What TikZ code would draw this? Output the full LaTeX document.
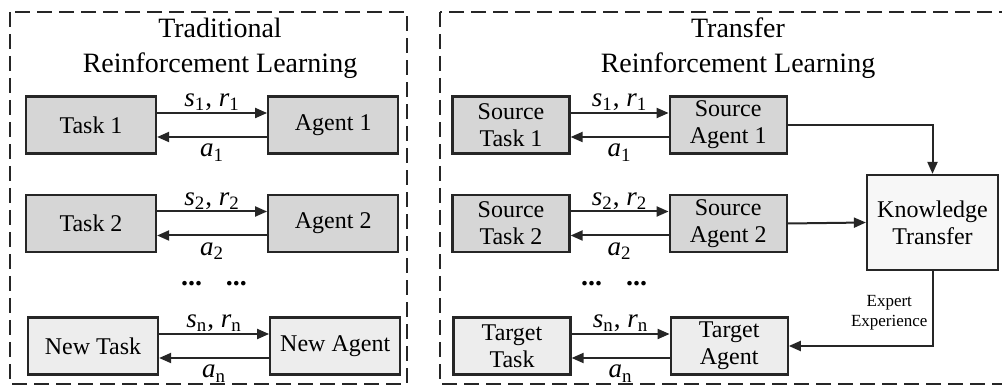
\documentclass[tikz,border=0pt]{standalone}
\usepackage{fontspec}
\setmainfont{Liberation Serif}
\usetikzlibrary{arrows.meta, positioning}

\newcommand{\symsub}[2]{\textit{#1}\textsubscript{#2}}

\begin{document}
\begin{tikzpicture}[
    x=0.5pt, y=-0.5pt,
    box/.style={draw=black!85, line width=1.1pt, minimum height=28.5pt, align=center, inner sep=1pt, font=\fontsize{12}{13.5}\selectfont},
    wbox/.style={box, minimum width=65pt},
    nbox/.style={box, minimum width=58.5pt},
    srcbox/.style={fill=black!16},
    newbox/.style={fill=black!7},
    arrow/.style={-{Triangle[length=6pt,width=5pt]}, line width=1pt, draw=black!85},
    dashframe/.style={draw=black!85, line width=1pt, dash pattern=on 7.5pt off 3.5pt},
    heading/.style={align=center, font=\fontsize{14}{17.5}\selectfont},
    lbl/.style={font=\fontsize{13.5}{14}\selectfont},
    dots/.style={font=\fontsize{14}{15}\selectfont\bfseries}
]
    \useasboundingbox (0,0) rectangle (1002,389);

    \draw[dashframe] (10,12) rectangle (407,384);
    \draw[dashframe] (440,12) rectangle (1015,384);

    \node[heading] (lhead) at (220,48) {Traditional\\Reinforcement Learning};
    \node[heading] (rhead) at (738,48) {Transfer\\Reinforcement Learning};

    % traditional RL
    \node[wbox, srcbox] (t1) at (91,125) {Task 1};
    \node[wbox, srcbox, right=55pt of t1] (a1) {Agent 1};
    \node[wbox, srcbox] (t2) at (91,223.5) {Task 2};
    \node[wbox, srcbox, right=55pt of t2] (a2) {Agent 2};
    \node[wbox, newbox] (t3) at (93,346) {New Task};
    \node[wbox, newbox, right=55pt of t3] (a3) {New Agent};
    \node[dots] (ldots) at (214,284) {...\hspace{12pt}...};

    % transfer RL
    \node[nbox, srcbox] (st1) at (511,125) {Source\\Task 1};
    \node[nbox, srcbox, right=49pt of st1] (sa1) {Source\\Agent 1};
    \node[nbox, srcbox] (st2) at (511,223.5) {Source\\Task 2};
    \node[nbox, srcbox, right=49pt of st2] (sa2) {Source\\Agent 2};
    \node[nbox, newbox] (tt) at (512,346) {Target\\Task};
    \node[nbox, newbox, right=49pt of tt] (ta) {Target\\Agent};
    \node[dots] (rdots) at (614,284) {...\hspace{12pt}...};

    \node[box, fill=black!3, minimum width=65.5pt, minimum height=47.5pt] (kt) at (932.5,222.5) {Knowledge\\Transfer};

    \foreach \tk/\ag/\k in {t1/a1/1, t2/a2/2, t3/a3/n, st1/sa1/1, st2/sa2/2, tt/ta/n} {
        \draw[arrow] ([yshift=6pt]\tk.east) -- node[lbl, above, inner sep=0.5pt] {\symsub{s}{\k}, \symsub{r}{\k}} ([yshift=6pt]\ag.west);
        \draw[arrow] ([yshift=-6pt]\ag.west) -- node[lbl, below, inner sep=3pt] {\symsub{a}{\k}} ([yshift=-6pt]\tk.east);
    }

    \draw[arrow] (sa1.east) -| (kt.north);
    \draw[arrow] (sa2.east) -- (kt.west);
    \draw[arrow] (kt.south) |- node[pos=0.28, left, inner sep=2pt, align=center, font=\fontsize{8.5}{10}\selectfont] {Expert\\Experience} (ta.east);
\end{tikzpicture}
\end{document}
